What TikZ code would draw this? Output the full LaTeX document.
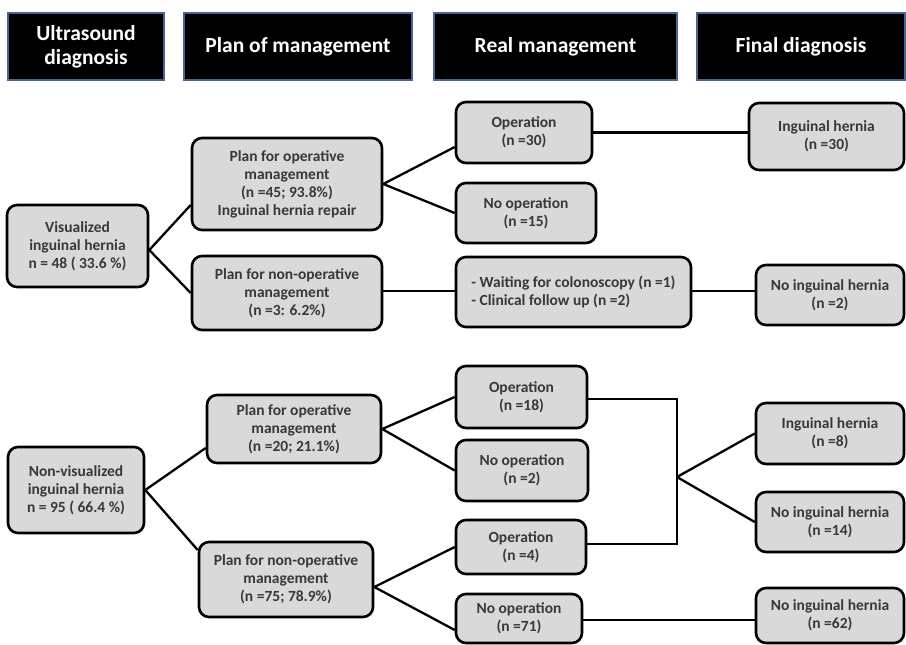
\documentclass[tikz,border=0pt]{standalone}
\usepackage{fontspec}
\setmainfont{Carlito}
\usetikzlibrary{calc}
\definecolor{boxfill}{HTML}{D9D9D9}
\definecolor{boxtext}{HTML}{383838}
\definecolor{hdrborder}{HTML}{4A6690}
\tikzset{
  hdr/.style={draw=hdrborder, line width=1.5pt, fill=black, text=white,
    font=\bfseries\fontsize{21.5}{24}\selectfont, align=center, inner sep=0pt},
  gbox/.style={draw=black, line width=2.6pt, fill=boxfill, rounded corners=10pt,
    text=boxtext, font=\bfseries\fontsize{15.5}{18}\selectfont, align=center, inner sep=0pt},
  conn/.style={draw=black, line width=2.3pt},
}
\newcommand{\bx}[7]{% name, style, xl, xr, yt, yb, text
  \node[#2, minimum width={#4-#3}, minimum height={#6-#5}] (#1) at ({(#3+#4)/2},{(#5+#6)/2}) {#7};}
\begin{document}
\begin{tikzpicture}[x=1pt,y=-1pt]
\useasboundingbox (0,0) rectangle (906,645);
% headers
\bx{h1}{hdr}{8}{164}{13}{80}{Ultrasound\\diagnosis}
\bx{h2}{hdr}{184}{412}{13}{80}{Plan of management}
\bx{h3}{hdr}{434}{677}{13}{80}{Real management}
\bx{h4}{hdr}{697}{905}{13}{80}{Final diagnosis}
% upper tree
\bx{vis}{gbox}{7}{148}{205}{287}{Visualized\\inguinal hernia\\n = 48 ( 33.6 \%)}
\bx{pop1}{gbox}{192}{382}{138}{230}{Plan for operative\\management\\(n =45; 93.8\%)\\Inguinal hernia repair}
\bx{pnop1}{gbox}{192}{382}{256}{330}{Plan for non-operative\\management\\(n =3: 6.2\%)}
\bx{op30}{gbox}{456}{592}{102}{163}{Operation\\(n =30)}
\bx{nop15}{gbox}{456}{596}{183}{243}{No operation\\(n =15)}
\node[gbox, minimum width=235pt, minimum height=70pt, align=left] (wait) at (573.5,292) {- Waiting for colonoscopy (n =1)\\- Clinical follow up (n =2)};
\bx{ih30}{gbox}{749}{904}{103}{170}{Inguinal hernia\\(n =30)}
\bx{nih2}{gbox}{756}{904}{265}{325}{No inguinal hernia\\(n =2)}
% lower tree
\bx{nv}{gbox}{8}{144}{447}{533}{Non-visualized\\inguinal hernia\\n = 95 ( 66.4 \%)}
\bx{pop2}{gbox}{207}{381}{395}{463}{Plan for operative\\management\\(n =20; 21.1\%)}
\bx{pnop2}{gbox}{199}{373}{542}{617}{Plan for non-operative\\management\\(n =75; 78.9\%)}
\bx{op18}{gbox}{456}{587}{366}{428}{Operation\\(n =18)}
\bx{nop2}{gbox}{456}{588}{440}{501}{No operation\\(n =2)}
\bx{op4}{gbox}{456}{586}{520}{574}{Operation\\(n =4)}
\bx{nop71}{gbox}{456}{582}{594}{643}{No operation\\(n =71)}
\bx{ih8}{gbox}{756}{904}{403}{464}{Inguinal hernia\\(n =8)}
\bx{nih14}{gbox}{756}{904}{492}{552}{No inguinal hernia\\(n =14)}
\bx{nih62}{gbox}{756}{904}{588}{643}{No inguinal hernia\\(n =62)}
% connectors upper
\draw[conn] ([yshift=-4pt]vis.east) -- ([yshift=-21pt]pop1.west);
\draw[conn] ([yshift=-4pt]vis.east) -- (pnop1.west);
\draw[conn] (pop1.east) -- ([yshift=-14.5pt]op30.west);
\draw[conn] (pop1.east) -- (nop15.west);
\draw[conn] ([yshift=2pt]pnop1.east) -- ([yshift=2pt]pnop1.east -| wait.west);
\draw[conn] (op30.east) -- (op30.east -| ih30.west);
\draw[conn] ([yshift=1pt]wait.east) -- ([yshift=1pt]wait.east -| nih2.west);
% connectors lower
\draw[conn] (nv.east) -- ([yshift=-19pt]pop2.west);
\draw[conn] (nv.east) -- ([yshift=29.5pt]pnop2.west);
\draw[conn] (pop2.east) -- (op18.west);
\draw[conn] (pop2.east) -- (nop2.west);
\draw[conn] ([yshift=-7.5pt]pnop2.east) -- (op4.west);
\draw[conn] ([yshift=-7.5pt]pnop2.east) -- ([yshift=-11.5pt]nop71.west);
\coordinate (jx) at (677,477);
\draw[conn] ([yshift=-2pt]op18.east) -- ([yshift=-2pt]op18.east -| jx) -- ([yshift=3pt]op4.east -| jx) -- ([yshift=3pt]op4.east);
\draw[conn] (jx) -- (ih8.west);
\draw[conn] (jx) -- (nih14.west);
\draw[conn] ([yshift=-1.5pt]nop71.east) -- ([yshift=-1.5pt]nop71.east -| nih62.west);
\end{tikzpicture}
\end{document}
